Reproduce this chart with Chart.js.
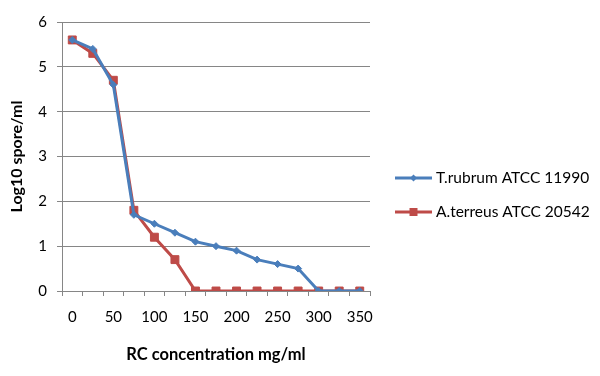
<!DOCTYPE html>
<html><head><meta charset="utf-8">
<script src="https://cdn.jsdelivr.net/npm/chart.js@4"></script>
<style>html,body{margin:0;padding:0;background:#fff}#wrap{width:600px;height:376px}</style>
</head><body><div id="wrap"><canvas id="c" width="600" height="376"></canvas></div>
<script>
const categories = ['0','25','50','75','100','125','150','175','200','225','250','275','300','325','350'];
const tickLabels = ['0','50','100','150','200','250','300','350'];
const trubrum = [5.6,5.4,4.6,1.7,1.5,1.3,1.1,1.0,0.9,0.7,0.6,0.5,0,0,0];
const aterreus = [5.6,5.3,4.7,1.8,1.2,0.7,0,0,0,0,0,0,0,0,0];
const seriesNames = ['T.rubrum ATCC 11990','A.terreus ATCC 20542'];
const blue = '#4A7EBB', red = '#BE4B48';
const FONT = 'Lato, "Open Sans", sans-serif';

const legendPlugin = {
  id: 'sideLegend',
  afterDraw(chart) {
    const ctx = chart.ctx;
    const ys = [178, 212];
    chart.data.datasets.forEach((ds, i) => {
      const y = ys[i];
      ctx.save();
      ctx.strokeStyle = ds.borderColor; ctx.lineWidth = 3;
      ctx.beginPath(); ctx.moveTo(395, y); ctx.lineTo(432, y); ctx.stroke();
      ctx.fillStyle = ds.backgroundColor;
      ctx.beginPath();
      if (ds.pointStyle === 'rect') { ctx.rect(413.5-4, y-4, 8, 8); }
      else { ctx.moveTo(413.5, y-3.5); ctx.lineTo(417, y); ctx.lineTo(413.5, y+3.5); ctx.lineTo(410, y); ctx.closePath(); }
      ctx.fill();
      ctx.fillStyle = '#000'; ctx.font = '15.5px ' + FONT; ctx.textBaseline = 'middle'; ctx.textAlign = 'left';
      ctx.fillText(ds.label, 436, y);
      ctx.restore();
    });
  }
};

new Chart(document.getElementById('c'), {
  type: 'line',
  data: {
    labels: categories,
    datasets: [
      {label: seriesNames[0], data: trubrum, borderColor: blue, backgroundColor: blue, borderWidth: 3,
       pointStyle: 'rectRot', pointRadius: 3.5, pointBorderWidth: 1, tension: 0},
      {label: seriesNames[1], data: aterreus, borderColor: red, backgroundColor: red, borderWidth: 3,
       pointStyle: 'rect', pointRadius: 5.6, pointBorderWidth: 1, tension: 0}
    ]
  },
  options: {
    responsive: false, animation: false, devicePixelRatio: 1,
    layout: {padding: {left: 0, top: 22, right: 230, bottom: 0}},
    plugins: {legend: {display: false}, tooltip: {enabled: false}},
    scales: {
      x: {
        offset: true,
        grid: {offset: true, drawOnChartArea: false, color: '#868686', tickLength: 5},
        border: {color: '#868686', width: 1},
        ticks: {autoSkip: false, maxRotation: 0, padding: 12, color: '#000', font: {family: FONT, size: 15},
          callback: (v, i) => tickLabels.includes(categories[i]) ? categories[i] : ''},
        title: {display: true, text: 'RC concentration mg/ml', color: '#000', font: {family: FONT, size: 16.5, weight: 'bold'}, padding: {top: 0, bottom: 11}},
        afterFit: s => { s.height = 85; }
      },
      y: {
        min: 0, max: 6,
        grid: {color: '#868686', tickLength: 5},
        border: {color: '#868686', width: 1},
        ticks: {stepSize: 1, padding: 10, color: '#000', font: {family: FONT, size: 15}},
        title: {display: true, text: 'Log10 spore/ml', color: '#000', font: {family: FONT, size: 16, weight: 'bold'}, padding: {top: 7, bottom: 4}},
        afterFit: s => { s.width = 62; }
      }
    }
  },
  plugins: [legendPlugin]
});
</script></body></html>
